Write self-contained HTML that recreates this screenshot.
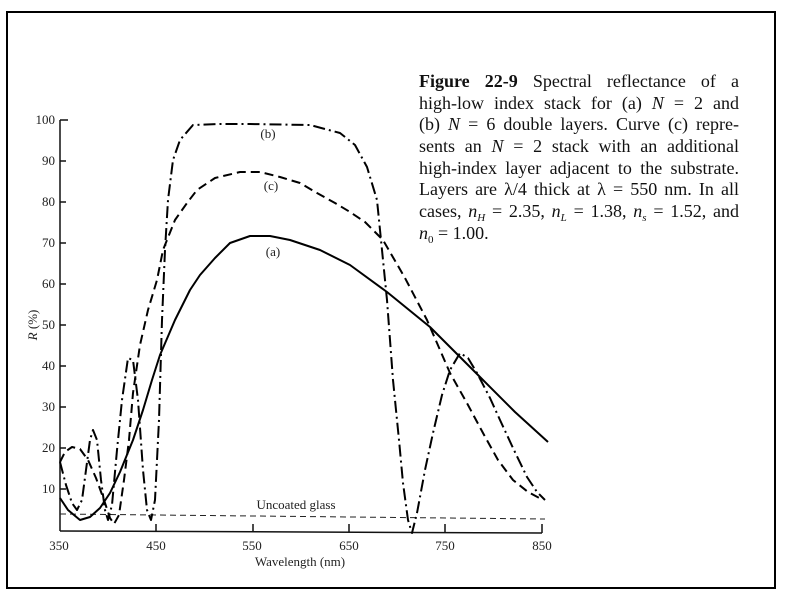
<!DOCTYPE html>
<html><head><meta charset="utf-8"><style>
body{margin:0;background:#fff;}
.cap{position:absolute;left:419px;top:71px;width:320px;font-family:"Liberation Serif",serif;font-size:18px;line-height:21.7px;color:#111;}
.cap div{height:21.7px;text-align:justify;text-align-last:justify;white-space:nowrap;}
.cap div.l{text-align-last:left;}
.cap sub{font-size:11px;vertical-align:baseline;position:relative;top:4px;}
</style></head><body>
<div style="position:relative;width:791px;height:600px;overflow:hidden;">
<svg width="791" height="600" style="position:absolute;left:0;top:0" font-family="Liberation Serif, serif">
<rect x="7" y="12" width="768" height="576" fill="none" stroke="#000" stroke-width="2"/>
<g stroke="#111" stroke-width="1.5" fill="none">
<line x1="60" y1="120" x2="60" y2="531"/>
<line x1="60" y1="531" x2="542" y2="533"/>
<line x1="60" y1="120" x2="68" y2="120"/>
<line x1="60" y1="161" x2="66" y2="161"/><line x1="60" y1="202" x2="66" y2="202"/>
<line x1="60" y1="243" x2="66" y2="243"/><line x1="60" y1="284" x2="66" y2="284"/>
<line x1="60" y1="325" x2="66" y2="325"/><line x1="60" y1="366" x2="66" y2="366"/>
<line x1="60" y1="407" x2="66" y2="407"/><line x1="60" y1="448" x2="66" y2="448"/>
<line x1="60" y1="489" x2="66" y2="489"/>
<line x1="156" y1="531" x2="156" y2="524"/><line x1="253" y1="532" x2="253" y2="524"/>
<line x1="349" y1="532" x2="349" y2="524"/><line x1="445" y1="532" x2="445" y2="524"/>
<line x1="542" y1="533" x2="542" y2="524"/>
</g>
<g font-size="13" fill="#222" text-anchor="end">
<text x="55" y="124">100</text><text x="55" y="165">90</text><text x="55" y="206">80</text>
<text x="55" y="247">70</text><text x="55" y="288">60</text><text x="55" y="329">50</text>
<text x="55" y="370">40</text><text x="55" y="411">30</text><text x="55" y="452">20</text>
<text x="55" y="493">10</text>
</g>
<g font-size="13" fill="#222" text-anchor="middle">
<text x="59" y="550">350</text><text x="156" y="550">450</text><text x="252" y="550">550</text>
<text x="349" y="550">650</text><text x="445" y="550">750</text><text x="542" y="550">850</text>
<text x="300" y="566">Wavelength (nm)</text>
<text x="296" y="509">Uncoated glass</text>
<text x="268" y="138">(b)</text><text x="271" y="190">(c)</text><text x="273" y="256">(a)</text>
</g>
<text transform="translate(37,325) rotate(-90)" font-size="13" text-anchor="middle" fill="#222"><tspan font-style="italic">R</tspan> (%)</text>
<line x1="60" y1="514" x2="545" y2="519" stroke="#222" stroke-width="1" stroke-dasharray="6,4"/>
<polyline fill="none" stroke="#000" stroke-width="2" stroke-linejoin="round" points="60,498 68,510 80,520 90,517 100,508 110,493 120,472 133,440 143,410 152,380 160,355 175,320 190,290 200,275 215,258 230,243 250,236 270,236 290,240 320,250 350,265 387,292 430,327 480,377 515,412 548,442"/>
<polyline fill="none" stroke="#000" stroke-width="2" stroke-dasharray="9,5" stroke-linejoin="round" points="60,462 65,452 72,447 80,449 88,460 96,478 104,500 110,518 114,524 119,515 124,480 129,440 133,393 140,345 148,310 157,280 163,250 175,220 187,203 197,190 215,178 240,172 260,172 280,177 300,183 317,193 335,203 350,212 365,222 383,240 405,278 427,320 450,373 468,405 483,433 498,460 513,480 528,492 543,500"/>
<polyline fill="none" stroke="#000" stroke-width="2" stroke-dasharray="12,4,2,4" stroke-linejoin="round" points="60,462 66,485 72,503 77,510 82,500 86,470 90,440 93,430 97,440 101,480 105,510 108,520 112,505 117,450 122,400 128,358 133,360 138,400 143,470 147,510 151,520 155,500 159,420 162,320 165,250 168,200 173,160 180,140 193,125 220,124 250,124 310,125 340,133 355,145 367,167 377,200 383,260 387,300 393,380 399,440 403,483 408,520 412,533 417,513 425,470 433,433 442,395 450,370 460,353 468,358 477,373 490,398 500,420 513,448 527,477 537,492 545,500"/>
</svg>
<div class="cap">
<div><b>Figure 22-9</b> Spectral reflectance of a</div>
<div>high-low index stack for (a) <i>N</i> = 2 and</div>
<div>(b) <i>N</i> = 6 double layers. Curve (c) repre-</div>
<div>sents an <i>N</i> = 2 stack with an additional</div>
<div>high-index layer adjacent to the substrate.</div>
<div>Layers are λ/4 thick at λ = 550 nm. In all</div>
<div>cases, <i>n<sub>H</sub></i> = 2.35, <i>n<sub>L</sub></i> = 1.38, <i>n<sub>s</sub></i> = 1.52, and</div>
<div class="l"><i>n</i><sub>0</sub> = 1.00.</div>
</div>
</div>
</body></html>
